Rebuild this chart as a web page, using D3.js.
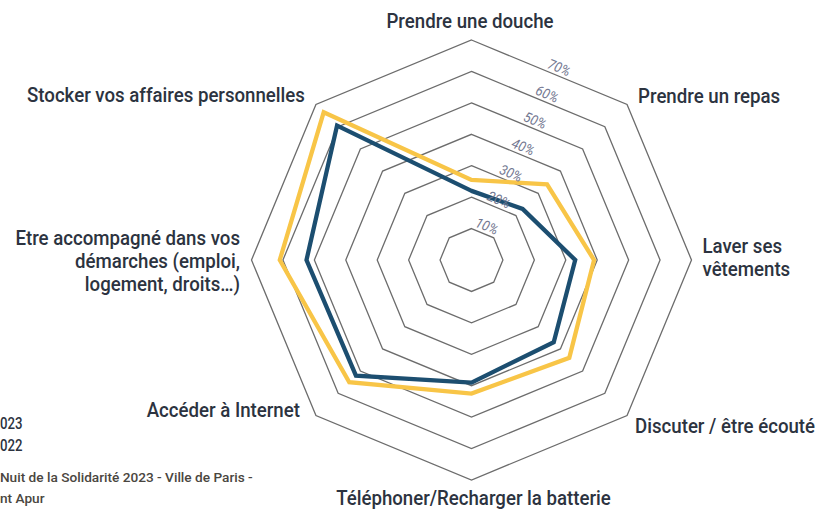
<!DOCTYPE html>
<html>
<head>
<meta charset="utf-8">
<script src="https://cdn.jsdelivr.net/npm/d3@7"></script>
<style>
  html, body { margin: 0; padding: 0; background: #fff; }
  svg { display: block; font-family: Roboto, "Noto Sans", sans-serif; }
</style>
</head>
<body>
<svg id="chart" width="819" height="509"></svg>
<script>
// ---- data ----
const axes = [
  "Prendre une douche",
  "Prendre un repas",
  "Laver ses vêtements",
  "Discuter / être écouté",
  "Téléphoner/Recharger la batterie",
  "Accéder à Internet",
  "Etre accompagné dans vos démarches (emploi, logement, droits…)",
  "Stocker vos affaires personnelles"
];
const axisLines = [
  ["Prendre une douche"],
  ["Prendre un repas"],
  ["Laver ses", "vêtements"],
  ["Discuter / être écouté"],
  ["Téléphoner/Recharger la batterie"],
  ["Accéder à Internet"],
  ["Etre accompagné dans vos", "démarches (emploi,", "logement, droits…)"],
  ["Stocker vos affaires personnelles"]
];
const values2023 = [25.5, 34, 39, 44, 42.5, 55, 61, 66.5];
const values2022 = [22, 23, 33, 37, 39, 52, 52.5, 60.5];
const seriesNames = ["2023", "2022"];
const ticks = [10, 20, 30, 40, 50, 60, 70];
const tickLabels = ["10%", "20%", "30%", "40%", "50%", "60%", "70%"];
const sourceLines = ["Source : Nuit de la Solidarité 2023 - Ville de Paris -", "traitement Apur"];

// ---- layout ----
const svg = d3.select("#chart");
const cx = 471.5, cy = 260;
const r = d3.scaleLinear().domain([0, 70]).range([0, 220]);
const n = axes.length;
const ang = d3.scaleLinear().domain([0, n]).range([0, 2 * Math.PI]);
const pt = (i, v) => [cx + r(v) * Math.sin(ang(i)), cy - r(v) * Math.cos(ang(i))];

const COLORS = { "2023": "#f8c547", "2022": "#1c4e70" };

const g = svg.append("g");

// grid octagons
ticks.forEach(t => {
  g.append("path")
    .attr("d", d3.line()(d3.range(n).map(i => pt(i, t))) + "Z")
    .attr("fill", "none")
    .attr("stroke", "#6c6c6c")
    .attr("stroke-width", 1.3);
});

// series
const lineGen = d3.line().curve(d3.curveLinearClosed);
[["2023", values2023], ["2022", values2022]].forEach(([name, vals]) => {
  g.append("path")
    .attr("d", lineGen(vals.map((v, i) => pt(i, v))))
    .attr("fill", "none")
    .attr("stroke", COLORS[name])
    .attr("stroke-width", 4.3)
    .attr("stroke-linejoin", "miter");
});

// tick labels (along the top-right edge)
const apo = Math.cos(Math.PI / 8);
const la = 24.5 * Math.PI / 180;
ticks.forEach((t, k) => {
  const d = r(t) * apo + 7;
  const x = cx + d * Math.sin(la), y = cy - d * Math.cos(la);
  g.append("text")
    .attr("transform", `translate(${x},${y}) rotate(22.5) scale(0.92,1)`)
    .attr("text-anchor", "middle")
    .attr("dominant-baseline", "middle")
    .attr("font-size", 14)
    .attr("font-style", "italic")
    .attr("font-weight", 400)
    .attr("fill", "#737891")
    .text(tickLabels[k]);
});

// condensation factor for axis labels (fit the longest one-line label to 278px)
const probe = g.append("text").attr("font-size", 20).attr("font-weight", 500)
  .text("Stocker vos affaires personnelles");
const K = 278 / probe.node().getComputedTextLength();
probe.remove();

// axis labels
const labelLayout = [
  { anchor: "middle", dx: -1.5, dy: -12, lh: 0 },
  { anchor: "start", dx: 11, dy: -1.7, lh: 0 },
  { anchor: "start", dx: 11, dy: -7.5, lh: 23 },
  { anchor: "start", dx: 8, dy: 17.5, lh: 0 },
  { anchor: "middle", dx: 2, dy: 25, lh: 0 },
  { anchor: "end", dx: -16, dy: 1.1, lh: 0 },
  { anchor: "end", dx: -11.5, dy: -15, lh: 23 },
  { anchor: "end", dx: -11, dy: -2.7, lh: 0 }
];
axisLines.forEach((lines, i) => {
  const [vx, vy] = pt(i, 70);
  const L = labelLayout[i];
  lines.forEach((ln, j) => {
    g.append("text")
      .attr("transform", `translate(${vx + L.dx},${vy + L.dy + j * L.lh}) scale(${K},1)`)
      .attr("text-anchor", L.anchor)
      .attr("font-size", 20)
      .attr("font-weight", 500)
      .attr("fill", "#2c3340")
      .text(ln);
  });
});

// legend (partially cut at left edge)
seriesNames.forEach((s, i) => {
  const t = g.append("text")
    .attr("font-size", 16.5)
    .attr("font-weight", 500)
    .attr("fill", "#2c3340")
    .text(s);
  const w0 = t.node().getSubStringLength(0, 1) * 0.8;
  t.attr("transform", `translate(${-w0},${429 + i * 22}) scale(0.8,1)`);
});

// source
const visStart = sourceLines[0].indexOf("Nuit");
const probe2 = g.append("text").attr("font-size", 13.5).attr("font-weight", 500)
  .text(sourceLines[0].slice(visStart));
const kk = 253 / probe2.node().getComputedTextLength();
probe2.remove();
sourceLines.forEach((s, i) => {
  const t = g.append("text")
    .attr("font-size", 13.5)
    .attr("font-weight", 500)
    .attr("fill", "#4a4640")
    .text(s);
  const c = i === 0 ? visStart : s.indexOf("nt Apur");
  const w0 = t.node().getSubStringLength(0, c) * kk;
  t.attr("transform", `translate(${-w0},${482 + i * 21}) scale(${kk},1)`);
});
</script>
</body>
</html>
